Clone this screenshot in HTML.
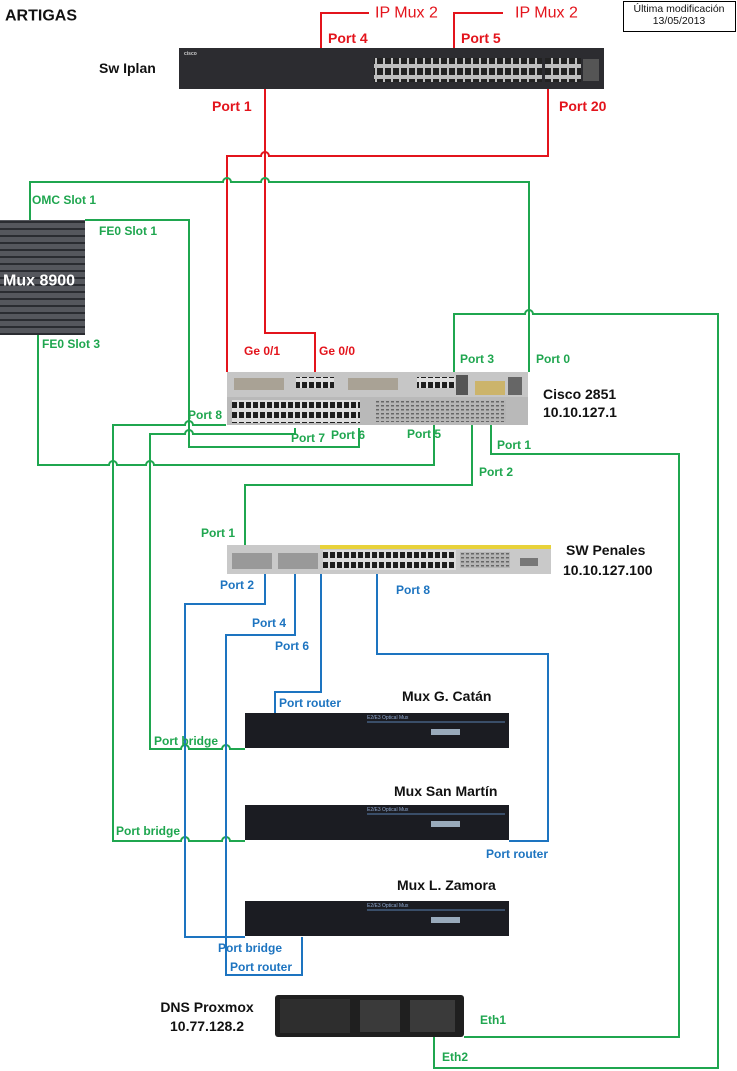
<!DOCTYPE html>
<html><head><meta charset="utf-8"><style>
html,body{margin:0;padding:0;background:#fff;width:737px;height:1071px;overflow:hidden}
svg{display:block}
text{font-family:"Liberation Sans",Arial,sans-serif;font-weight:bold;dominant-baseline:central}
.g{fill:#1fa64f;font-size:12px}
.r{fill:#e3141c;font-size:14px}
.b{fill:#1d74c0;font-size:12px}
.k{fill:#111;font-size:14px}
.lg{stroke:#1fa64f;stroke-width:2;fill:none}
.lr{stroke:#e3141c;stroke-width:2;fill:none}
.lb{stroke:#1d74c0;stroke-width:2;fill:none}
</style></head><body>
<svg width="737" height="1071" viewBox="0 0 737 1071" xmlns="http://www.w3.org/2000/svg">
<defs>
<pattern id="rj" x="0" y="0" width="8" height="11" patternUnits="userSpaceOnUse"><rect width="8" height="11" fill="#bfbfbf"/><rect x="1" y="2" width="6" height="7" fill="#222"/></pattern>
<pattern id="rj2" x="0" y="0" width="7" height="10" patternUnits="userSpaceOnUse"><rect width="7" height="10" fill="#ddd"/><rect x="1" y="2" width="5" height="6" fill="#1e1e1e"/></pattern>
<pattern id="gr" x="0" y="0" width="5" height="4" patternUnits="userSpaceOnUse"><rect width="5" height="4" fill="#b5b5b5"/><rect x="1" y="1" width="3" height="1.5" fill="#666"/></pattern>
<pattern id="st" x="0" y="0" width="85" height="7" patternUnits="userSpaceOnUse"><rect width="85" height="7" fill="#55575d"/><rect y="4" width="85" height="2" fill="#2a2c31"/></pattern>
</defs>

<text x="5" y="16" style="font-size:16px" fill="#111">ARTIGAS</text>
<rect x="623.5" y="1.5" width="112" height="30" fill="#fff" stroke="#000" stroke-width="1"/>
<text x="679" y="9" text-anchor="middle" style="font-weight:normal;font-size:10.5px" fill="#111">Última modificación</text>
<text x="679" y="21" text-anchor="middle" style="font-weight:normal;font-size:10.5px" fill="#111">13/05/2013</text>

<path class="lr" d="M321 48 V13 H369"/>
<path class="lr" d="M454 48 V13 H503"/>
<text x="375" y="13" class="r" style="font-weight:normal;font-size:16px">IP Mux 2</text>
<text x="515" y="13" class="r" style="font-weight:normal;font-size:16px">IP Mux 2</text>
<text x="328" y="38" class="r">Port 4</text>
<text x="461" y="38" class="r">Port 5</text>

<rect x="179" y="48" width="425" height="41" fill="#2c2c30"/>
<rect x="374" y="58" width="168" height="24" fill="url(#rj)"/>
<rect x="545" y="58" width="36" height="24" fill="url(#rj)"/>
<rect x="583" y="59" width="16" height="22" fill="#555"/>
<text x="184" y="54" style="font-size:5px" fill="#ccc">cisco</text>
<text x="99" y="68" class="k">Sw Iplan</text>
<text x="212" y="106" class="r">Port 1</text>
<text x="559" y="106" class="r">Port 20</text>

<path class="lr" d="M265 89 V333 H315 V372"/>
<path class="lr" d="M548 89 V156 H269 A4 4 0 0 0 261 156 H227 V372"/>

<path class="lg" d="M30 220 V182 H223 A4 4 0 0 1 231 182 H261 A4 4 0 0 1 269 182 H529 V372"/>

<rect x="0" y="220" width="85" height="115" fill="url(#st)"/>
<text x="3" y="281" style="font-size:16px" fill="#fff">Mux 8900</text>
<text x="32" y="200" class="g">OMC Slot 1</text>
<text x="99" y="231" class="g">FE0 Slot 1</text>
<text x="42" y="344" class="g">FE0 Slot 3</text>

<text x="244" y="351" class="r" style="font-size:12px">Ge 0/1</text>
<text x="319" y="351" class="r" style="font-size:12px">Ge 0/0</text>
<text x="460" y="359" class="g">Port 3</text>
<text x="536" y="359" class="g">Port 0</text>

<rect x="227" y="372" width="301" height="53" fill="#b9b9b9"/>
<rect x="227" y="372" width="301" height="25" fill="#c6c6c6"/>
<rect x="296" y="377" width="38" height="11" fill="url(#rj2)"/>
<rect x="417" y="377" width="38" height="11" fill="url(#rj2)"/>
<rect x="234" y="378" width="50" height="12" fill="#a9a295"/>
<rect x="348" y="378" width="50" height="12" fill="#a9a295"/>
<rect x="456" y="375" width="12" height="20" fill="#555"/>
<rect x="475" y="381" width="30" height="14" fill="#ccb46b"/>
<rect x="508" y="377" width="14" height="18" fill="#666"/>
<rect x="232" y="400" width="128" height="23" fill="url(#rj2)"/>
<rect x="376" y="400" width="130" height="22" fill="url(#gr)"/>
<text x="543" y="394" class="k">Cisco 2851</text>
<text x="543" y="412" class="k">10.10.127.1</text>

<path class="lg" d="M454 372 V314 H525 A4 4 0 0 1 533 314 H718 V1068 H434 V1037"/>
<path class="lg" d="M85 220 H189 V447 H359 V428"/>
<path class="lg" d="M226 425 H193 A4 4 0 0 0 185 425 H113 V841 H181 A4 4 0 0 1 189 841 H222 A4 4 0 0 1 230 841 H245"/>
<path class="lg" d="M295 428 V434 H193 A4 4 0 0 0 185 434 H150 V749 H181 A4 4 0 0 1 189 749 H222 A4 4 0 0 1 230 749 H245"/>
<path class="lg" d="M38 335 V465 H109 A4 4 0 0 1 117 465 H146 A4 4 0 0 1 154 465 H434 V425"/>
<path class="lg" d="M491 425 V454 H679 V1037 H464"/>
<path class="lg" d="M472 425 V485 H245 V545"/>

<text x="188" y="415" class="g">Port 8</text>
<text x="291" y="438" class="g">Port 7</text>
<text x="331" y="435" class="g">Port 6</text>
<text x="407" y="434" class="g">Port 5</text>
<text x="497" y="445" class="g">Port 1</text>
<text x="479" y="472" class="g">Port 2</text>
<text x="201" y="533" class="g">Port 1</text>

<rect x="227" y="545" width="324" height="29" fill="#c9c9c9"/>
<rect x="320" y="545" width="231" height="4" fill="#e8d23a"/>
<rect x="232" y="553" width="40" height="16" fill="#999"/>
<rect x="278" y="553" width="40" height="16" fill="#999"/>
<rect x="323" y="550" width="133" height="20" fill="url(#rj2)"/>
<rect x="460" y="552" width="50" height="16" fill="url(#gr)"/>
<rect x="520" y="558" width="18" height="8" fill="#777"/>
<text x="566" y="550" class="k">SW Penales</text>
<text x="563" y="570" class="k">10.10.127.100</text>

<path class="lb" d="M265 574 V604 H185 V937 H245"/>
<path class="lb" d="M295 574 V635 H226 V975 H302 V937"/>
<path class="lb" d="M321 574 V692 H275 V714"/>
<path class="lb" d="M377 574 V654 H548 V841 H509"/>
<text x="220" y="585" class="b">Port 2</text>
<text x="396" y="590" class="b">Port 8</text>
<text x="252" y="623" class="b">Port 4</text>
<text x="275" y="646" class="b">Port 6</text>
<text x="279" y="703" class="b">Port router</text>
<text x="486" y="854" class="b">Port router</text>
<text x="218" y="948" class="b">Port bridge</text>
<text x="230" y="967" class="b">Port router</text>

<g>
<rect x="245" y="713" width="264" height="35" fill="#1b1c22"/>
<line x1="367" y1="722" x2="505" y2="722" stroke="#5a7fb0" stroke-width="1"/>
<text x="367" y="718" style="font-weight:normal;font-size:5px" fill="#8fa8d0">E2/E3 Optical Mux</text>
<rect x="431" y="729" width="29" height="6" fill="#9ab"/>
</g>
<g>
<rect x="245" y="805" width="264" height="35" fill="#1b1c22"/>
<line x1="367" y1="814" x2="505" y2="814" stroke="#5a7fb0" stroke-width="1"/>
<text x="367" y="810" style="font-weight:normal;font-size:5px" fill="#8fa8d0">E2/E3 Optical Mux</text>
<rect x="431" y="821" width="29" height="6" fill="#9ab"/>
</g>
<g>
<rect x="245" y="901" width="264" height="35" fill="#1b1c22"/>
<line x1="367" y1="910" x2="505" y2="910" stroke="#5a7fb0" stroke-width="1"/>
<text x="367" y="906" style="font-weight:normal;font-size:5px" fill="#8fa8d0">E2/E3 Optical Mux</text>
<rect x="431" y="917" width="29" height="6" fill="#9ab"/>
</g>
<text x="402" y="696" class="k">Mux G. Catán</text>
<text x="394" y="791" class="k">Mux San Martín</text>
<text x="397" y="885" class="k">Mux L. Zamora</text>
<text x="154" y="741" class="g">Port bridge</text>
<text x="116" y="831" class="g">Port bridge</text>

<rect x="275" y="995" width="189" height="42" rx="3" fill="#1f1f1f"/>
<rect x="280" y="999" width="70" height="34" fill="#2e2e2e"/>
<rect x="360" y="1000" width="40" height="32" fill="#3a3a3a"/>
<rect x="410" y="1000" width="45" height="32" fill="#3a3a3a"/>
<text x="207" y="1007" class="k" text-anchor="middle">DNS Proxmox</text>
<text x="207" y="1026" class="k" text-anchor="middle">10.77.128.2</text>
<text x="480" y="1020" class="g">Eth1</text>
<text x="442" y="1057" class="g">Eth2</text>
</svg>
</body></html>
